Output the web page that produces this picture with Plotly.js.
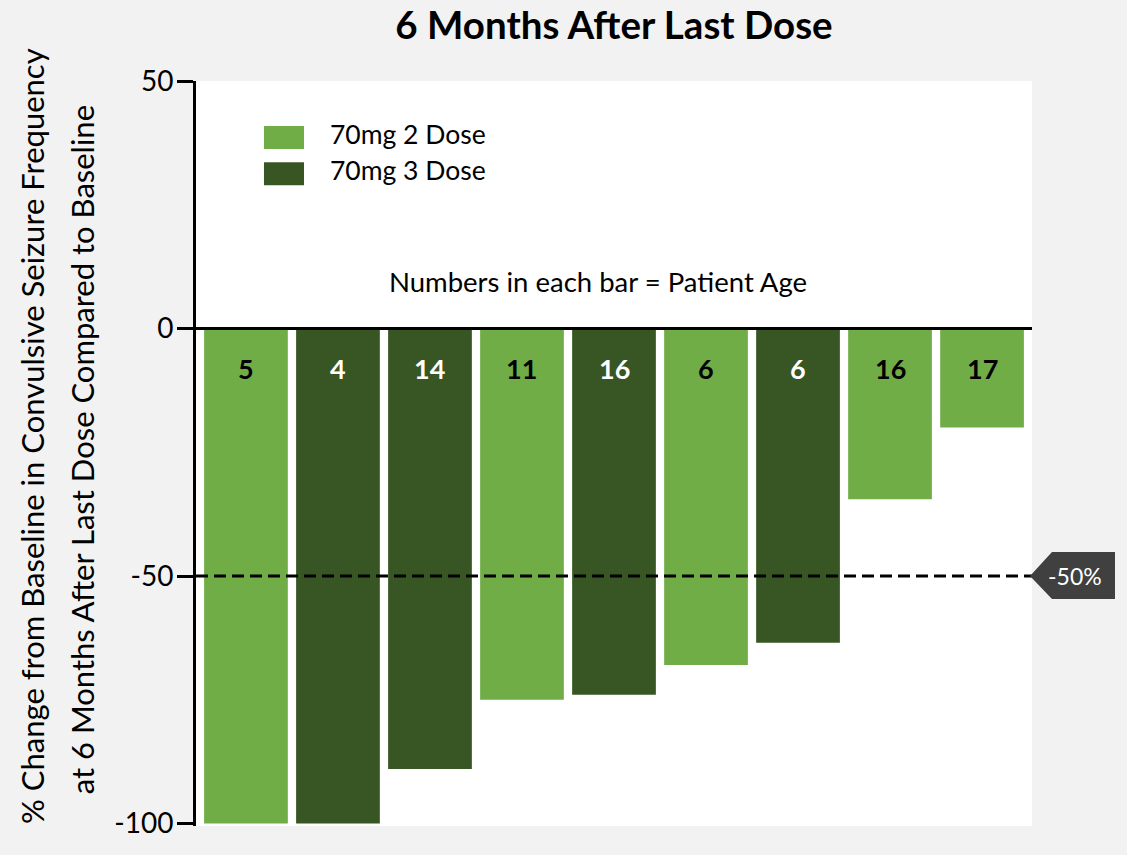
<!DOCTYPE html>
<html>
<head>
<meta charset="utf-8">
<script src="https://cdn.plot.ly/plotly-3.0.1.min.js"></script>
<style>html,body{margin:0;padding:0;background:#f2f2f2;}#chart{width:1127px;height:855px;}</style>
</head>
<body>
<div id="chart"></div>
<script>
// ---- data ----
const patientAges = [5, 4, 14, 11, 16, 6, 6, 16, 17];
const doseGroup   = ['70mg 2 Dose', '70mg 3 Dose', '70mg 3 Dose', '70mg 2 Dose', '70mg 3 Dose', '70mg 2 Dose', '70mg 3 Dose', '70mg 2 Dose', '70mg 2 Dose'];
const pctChange   = [-100, -100, -89, -75, -74, -68, -63.5, -34.5, -20];
const seriesNames = ['70mg 2 Dose', '70mg 3 Dose'];
const yTicks      = [50, 0, -50, -100];
const threshold   = -50;

const COLORS = {'70mg 2 Dose': '#70ad47', '70mg 3 Dose': '#375623'};
const LABEL_COLORS = {'70mg 2 Dose': '#000000', '70mg 3 Dose': '#ffffff'};
const FONT = 'Lato, "Open Sans", sans-serif';

const positions = patientAges.map((_, i) => i);

const traces = seriesNames.map(name => {
  const xs = [], ys = [];
  positions.forEach((p, i) => { if (doseGroup[i] === name) { xs.push(p); ys.push(pctChange[i]); } });
  return {
    type: 'bar', name: name, x: xs, y: ys, width: 0.91,
    marker: {color: COLORS[name], line: {width: 0}},
    showlegend: false, hoverinfo: 'skip'
  };
});

const annotations = [];
positions.forEach((p, i) => {
  annotations.push({
    x: p, y: -8, xref: 'x', yref: 'y', text: '<b>' + patientAges[i] + '</b>', showarrow: false,
    font: {family: FONT, size: 27, color: LABEL_COLORS[doseGroup[i]]}, xanchor: 'center', yanchor: 'middle'
  });
});
annotations.push({
  x: 0.4809, y: 9.5, xref: 'paper', yref: 'y', text: 'Numbers in each bar = Patient Age', showarrow: false,
  font: {family: FONT, size: 27.5, color: '#000'}, xanchor: 'center', yanchor: 'middle'
});
annotations.push({
  x: 1.0514, y: threshold, xref: 'paper', yref: 'y', text: threshold + '%', showarrow: false,
  font: {family: FONT, size: 23, color: '#fff'}, xanchor: 'center', yanchor: 'middle'
});
// y axis title (two lines)
annotations.push({
  x: -0.1955, y: 0.523, xref: 'paper', yref: 'paper', textangle: -90, showarrow: false,
  text: '% Change from Baseline in Convulsive Seizure Frequency',
  font: {family: FONT, size: 31, color: '#000'}, xanchor: 'center', yanchor: 'middle'
});
annotations.push({
  x: -0.137, y: 0.505, xref: 'paper', yref: 'paper', textangle: -90, showarrow: false,
  text: 'at 6 Months After Last Dose Compared to Baseline',
  font: {family: FONT, size: 31, color: '#000'}, xanchor: 'center', yanchor: 'middle'
});

// legend (manual)
const shapes = [];
const legendRows = [[0.9395, 0.9086, 0.9285], [0.8911, 0.8602, 0.8800]];
seriesNames.forEach((name, k) => {
  const r = legendRows[k];
  shapes.push({type: 'rect', xref: 'paper', yref: 'paper', x0: 0.0813, x1: 0.1292, y0: r[1], y1: r[0],
    fillcolor: COLORS[name], line: {width: 0}});
  annotations.push({x: 0.1579, y: r[2], xref: 'paper', yref: 'paper', text: name, showarrow: false,
    font: {family: FONT, size: 26.5, color: '#000'}, xanchor: 'left', yanchor: 'middle'});
});

// zero line
shapes.push({type: 'line', xref: 'paper', yref: 'y', x0: 0, x1: 1, y0: 0, y1: 0,
  line: {color: '#000', width: 3}, layer: 'above'});
// threshold dashed line
shapes.push({type: 'line', xref: 'paper', yref: 'y', x0: 0, x1: 1, y0: threshold, y1: threshold,
  line: {color: '#000', width: 3, dash: '12px,6px'}, layer: 'above'});
// tag
shapes.push({type: 'path', xref: 'paper', yref: 'y',
  path: 'M 0.9976,-50 L 1.0239,-45.15 L 1.0993,-45.15 L 1.0993,-54.65 L 1.0239,-54.65 Z',
  fillcolor: '#404040', line: {width: 0}, layer: 'above'});

const layout = {
  width: 1127, height: 855,
  paper_bgcolor: '#f2f2f2', plot_bgcolor: '#ffffff',
  margin: {l: 196, r: 95, t: 81, b: 29},
  barmode: 'overlay',
  title: {text: '<b>6 Months After Last Dose</b>', font: {family: FONT, size: 38.5, color: '#000'},
    x: 0.5, xref: 'paper', y: 0.970, yref: 'container', yanchor: 'middle'},
  xaxis: {range: [-0.543, 8.543], showticklabels: false, showgrid: false, zeroline: false,
    showline: false, ticks: '', fixedrange: true},
  yaxis: {range: [-100.5, 50], tickvals: yTicks, ticktext: yTicks.map(String), showgrid: false, zeroline: false,
    showline: true, linecolor: '#000', linewidth: 3, ticks: 'outside', ticklen: 16, tickwidth: 3, tickcolor: '#000',
    tickfont: {family: FONT, size: 28, color: '#000'}, ticklabelstandoff: -2, fixedrange: true},
  shapes: shapes,
  annotations: annotations,
  showlegend: false
};

Plotly.newPlot('chart', traces, layout, {displayModeBar: false, staticPlot: true});
</script>
</body>
</html>
